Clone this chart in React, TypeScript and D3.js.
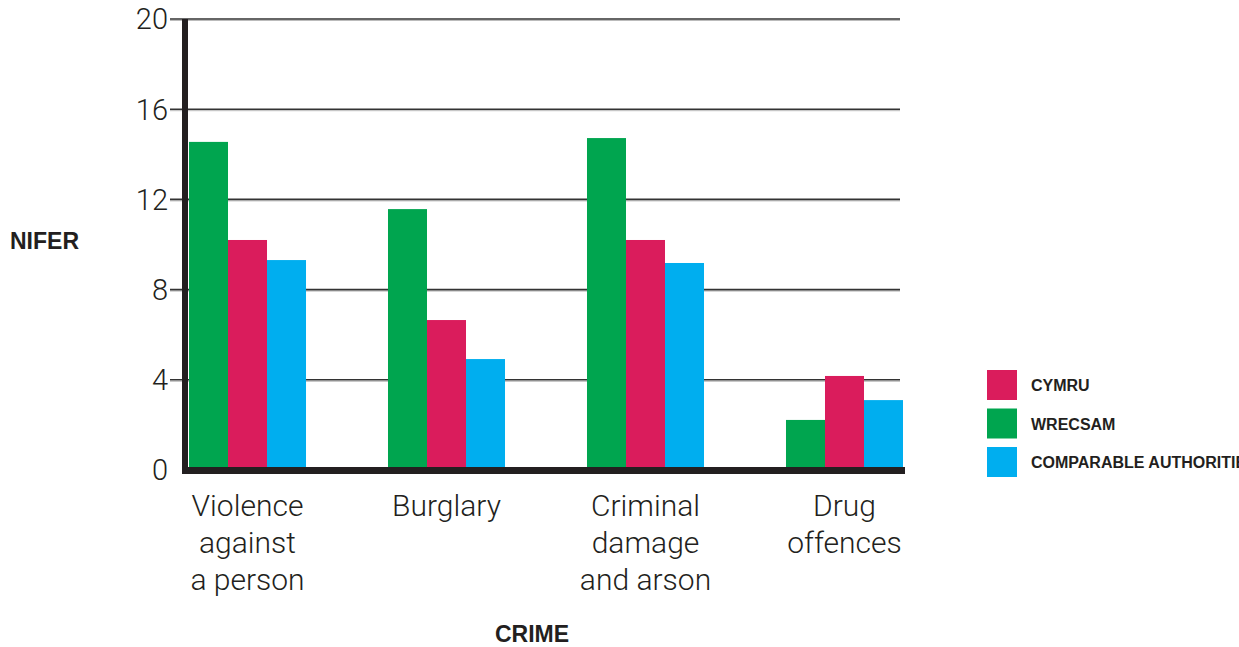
import React from "react";
import * as d3 from "d3";

const categories = ["Violence against a person", "Burglary", "Criminal damage and arson", "Drug offences"];
const categoryLines = [["Violence", "against", "a person"], ["Burglary"], ["Criminal", "damage", "and arson"], ["Drug", "offences"]];
const seriesNames = ["WRECSAM", "CYMRU", "COMPARABLE AUTHORITIES"];
const wrecsam = [14.55, 11.57, 14.72, 2.22];
const cymru = [10.2, 6.65, 10.2, 4.17];
const comparable = [9.31, 4.92, 9.18, 3.1];
const yTicks = [0, 4, 8, 12, 16, 20];
const legendOrder = ["CYMRU", "WRECSAM", "COMPARABLE AUTHORITIES"];
const colors: Record<string, string> = {
  WRECSAM: "#00A54F",
  CYMRU: "#DA1C5C",
  "COMPARABLE AUTHORITIES": "#00AEEF",
};

export default function App() {
  const W = 1239, H = 647;
  const y = d3.scaleLinear().domain([0, 20]).range([470, 19]);
  const x0 = d3.scaleBand<string>().domain(categories).range([189, 903]).paddingInner(0.412).paddingOuter(0);
  const x1 = d3.scaleBand<string>().domain(seriesNames).range([0, x0.bandwidth()]);
  const values = [wrecsam, cymru, comparable];
  const light = "Roboto, 'Liberation Sans', sans-serif";
  const bold = "'Liberation Sans', Arial, sans-serif";
  const ink = "#231F20";

  return (
    <svg width={W} height={H} style={{ position: "absolute", left: 0, top: 0 }}>
      <rect width={W} height={H} fill="#fff" />
      {yTicks.filter(t => t > 0).map(t => (
        <g key={t}>
          <line x1={170} x2={900} y1={y(t) + 1.5} y2={y(t) + 1.5} stroke="#bbb" strokeWidth={1} />
          <line x1={170} x2={900} y1={y(t)} y2={y(t)} stroke="#333" strokeWidth={1.6} />
        </g>
      ))}
      {yTicks.map(t => (
        <text key={"l" + t} x={168} y={y(t)} dy="0.36em" textAnchor="end" fontFamily={light} fontWeight={300} fontSize={29} fill={ink}>{t}</text>
      ))}
      {categories.map((c, ci) => (
        <g key={c}>
          {seriesNames.map((s, si) => (
            <rect key={s} x={(x0(c) as number) + (x1(s) as number)} width={x1.bandwidth()}
              y={y(values[si][ci])} height={y(0) - y(values[si][ci])} fill={colors[s]} />
          ))}
          {categoryLines[ci].map((ln, li) => (
            <text key={li} x={(x0(c) as number) + x0.bandwidth() / 2} y={516 + li * 37} textAnchor="middle"
              fontFamily={light} fontWeight={300} fontSize={30} fill={ink}>{ln}</text>
          ))}
        </g>
      ))}
      <rect x={182} y={19} width={6} height={455} fill={ink} />
      <rect x={182} y={467} width={723} height={7} fill={ink} />
      <text x={10} y={249} fontFamily={bold} fontWeight={700} fontSize={23} fill={ink}>NIFER</text>
      <text x={532} y={642} textAnchor="middle" fontFamily={bold} fontWeight={700} fontSize={23} fill={ink}>CRIME</text>
      {legendOrder.map((s, i) => (
        <g key={s}>
          <rect x={987} y={370 + i * 38.5} width={30} height={30} fill={colors[s]} />
          <text x={1031} y={391 + i * 38.5} fontFamily={bold} fontWeight={700} fontSize={16} fill={ink}>{s}</text>
        </g>
      ))}
    </svg>
  );
}
